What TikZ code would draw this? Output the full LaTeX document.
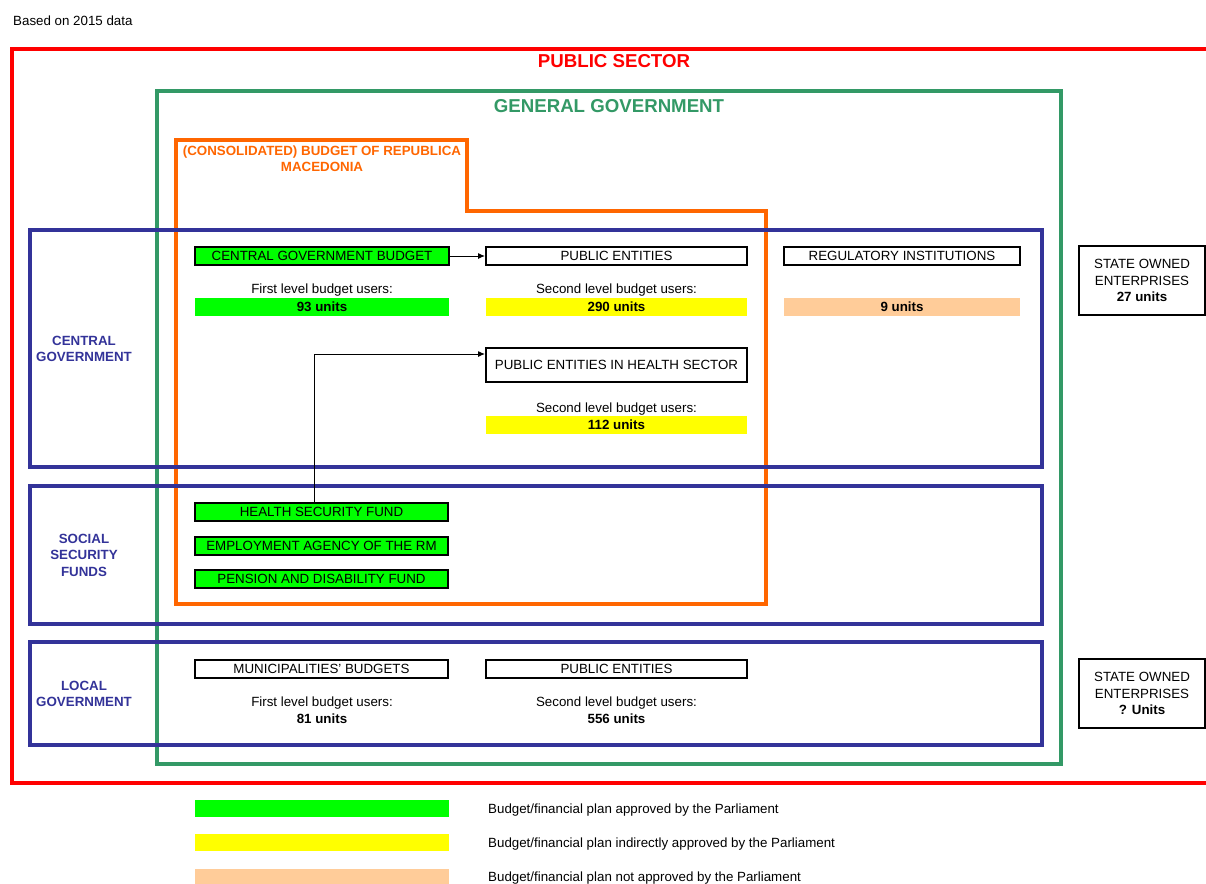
\documentclass[tikz,border=0pt]{standalone}
\usepackage{fontspec}
\setmainfont{Liberation Sans}
\usetikzlibrary{arrows.meta}
\definecolor{psred}{HTML}{FF0000}
\definecolor{ggreen}{HTML}{339966}
\definecolor{cborange}{HTML}{FF6600}
\definecolor{lvblue}{HTML}{333399}
\definecolor{apgreen}{HTML}{00FF00}
\definecolor{apyellow}{HTML}{FFFF00}
\definecolor{appeach}{HTML}{FFCC99}
\newcommand{\fsn}{\fontsize{13.33}{16.5}\selectfont}
\newcommand{\fst}{\fontsize{18.67}{22}\selectfont}
\tikzset{
  oneline/.style={text height=9.5pt, text depth=0pt},
  ubox/.style={draw=black, line width=2pt, inner sep=0pt, minimum height=18pt, font=\fsn, anchor=center, oneline},
  bar/.style={inner sep=0pt, minimum height=18pt, font=\fsn\bfseries, anchor=center, oneline},
  plain/.style={inner sep=0pt, font=\fsn, anchor=center, oneline},
  lvlabel/.style={inner sep=0pt, font=\fsn\bfseries, text=lvblue, align=center},
  soe/.style={draw=black, line width=2pt, inner sep=0pt, font=\fsn, align=center},
  conn/.style={line width=1pt, -{Latex[length=7pt,width=6pt]}},
}
\begin{document}
\begin{tikzpicture}[x=1pt,y=-1pt]
\clip (0,0) rectangle (1206,883);
\fill[white] (0,0) rectangle (1206,883);
\node[plain, anchor=west] (based) at (13,21) {Based on 2015 data};
% frames
\draw[psred, line width=4pt] (1215,49) -- (12,49) -- (12,783) -- (1215,783);
\draw[ggreen, line width=3.5pt] (157,91) rectangle (1061,764);
\draw[cborange, line width=3.5pt] (176,140) -- (467,140) -- (467,211) -- (766,211) -- (766,604) -- (176,604) -- cycle;
\draw[lvblue, line width=3.5pt] (30,230) rectangle (1042,467);
\draw[lvblue, line width=3.5pt] (30,486) rectangle (1042,624);
\draw[lvblue, line width=3.5pt] (30,642) rectangle (1042,745);
% titles
\node[inner sep=0pt, font=\fst\bfseries, text=psred] (tps) at (614,61) {PUBLIC SECTOR};
\node[inner sep=0pt, font=\fst\bfseries, text=ggreen] (tgg) at (609,106) {GENERAL GOVERNMENT};
\node[inner sep=0pt, font=\fsn\bfseries, text=cborange, align=center] (tcb) at (322,158.5) {(CONSOLIDATED) BUDGET OF REPUBLICA\\MACEDONIA};
\node[lvlabel] (lcg) at (84,349) {CENTRAL\\GOVERNMENT};
\node[lvlabel] (lss) at (84,555) {SOCIAL\\SECURITY\\FUNDS};
\node[lvlabel] (llg) at (84,694) {LOCAL\\GOVERNMENT};
% central government
\node[ubox, fill=apgreen, minimum width=254pt] (cgb) at (322,256) {CENTRAL GOVERNMENT BUDGET};
\node[ubox, fill=white, minimum width=261pt] (pe1) at (616.5,256) {PUBLIC ENTITIES};
\node[ubox, fill=white, minimum width=236pt] (reg) at (902,256) {REGULATORY INSTITUTIONS};
\node[plain] (fl1) at (322,289) {First level budget users:};
\node[bar, fill=apgreen, minimum width=254pt] (u93) at (322,307) {93 units};
\node[plain] (sl1) at (616.5,289) {Second level budget users:};
\node[bar, fill=apyellow, minimum width=261pt] (u290) at (616.5,307) {290 units};
\node[bar, fill=appeach, minimum width=236pt] (u9) at (902,307) {9 units};
\node[soe, minimum width=126pt, minimum height=69pt] (soe1) at (1142,280.5) {STATE OWNED\\ENTERPRISES\\\textbf{27 units}};
\node[ubox, fill=white, minimum width=261pt, minimum height=34pt] (hs) at (616.5,365) {PUBLIC ENTITIES IN HEALTH SECTOR};
\node[plain] (sl2) at (616.5,408) {Second level budget users:};
\node[bar, fill=apyellow, minimum width=261pt] (u112) at (616.5,425) {112 units};
% social security funds
\node[ubox, fill=apgreen, minimum width=253pt] (hsf) at (321.5,512) {HEALTH SECURITY FUND};
\node[ubox, fill=apgreen, minimum width=253pt] (ea) at (321.5,546) {EMPLOYMENT AGENCY OF THE RM};
\node[ubox, fill=apgreen, minimum width=253pt] (pdf) at (321.5,579) {PENSION AND DISABILITY FUND};
% local government
\node[ubox, fill=white, minimum width=253pt] (mb) at (321.5,668.5) {MUNICIPALITIES' BUDGETS};
\node[ubox, fill=white, minimum width=261pt] (pe2) at (616.5,668.5) {PUBLIC ENTITIES};
\node[plain] (fl2) at (322,702) {First level budget users:};
\node[plain, font=\fsn\bfseries] (u81) at (322,719) {81 units};
\node[plain] (sl3) at (616.5,702) {Second level budget users:};
\node[plain, font=\fsn\bfseries] (u556) at (616.5,719) {556 units};
\node[soe, minimum width=126pt, minimum height=69pt] (soe2) at (1142,693.5) {STATE OWNED\\ENTERPRISES\\\textbf{? Units}};
% connectors
\draw[conn] (cgb.east) -- (pe1.west);
\coordinate (hsbend) at (314.5,354);
\draw[conn] (hsf.north -| hsbend) -- (hsbend) -- (hs.west |- hsbend);
% legend
\node[bar, fill=apgreen, minimum width=254pt, minimum height=17pt] (lg1) at (322,808.5) {};
\node[plain, anchor=west] (lt1) at (488,809) {Budget/financial plan approved by the Parliament};
\node[bar, fill=apyellow, minimum width=254pt, minimum height=17pt] (lg2) at (322,842.5) {};
\node[plain, anchor=west] (lt2) at (488,843) {Budget/financial plan indirectly approved by the Parliament};
\node[bar, fill=appeach, minimum width=254pt, minimum height=17pt] (lg3) at (322,877.5) {};
\node[plain, anchor=west] (lt3) at (488,877) {Budget/financial plan not approved by the Parliament};
\end{tikzpicture}
\end{document}
